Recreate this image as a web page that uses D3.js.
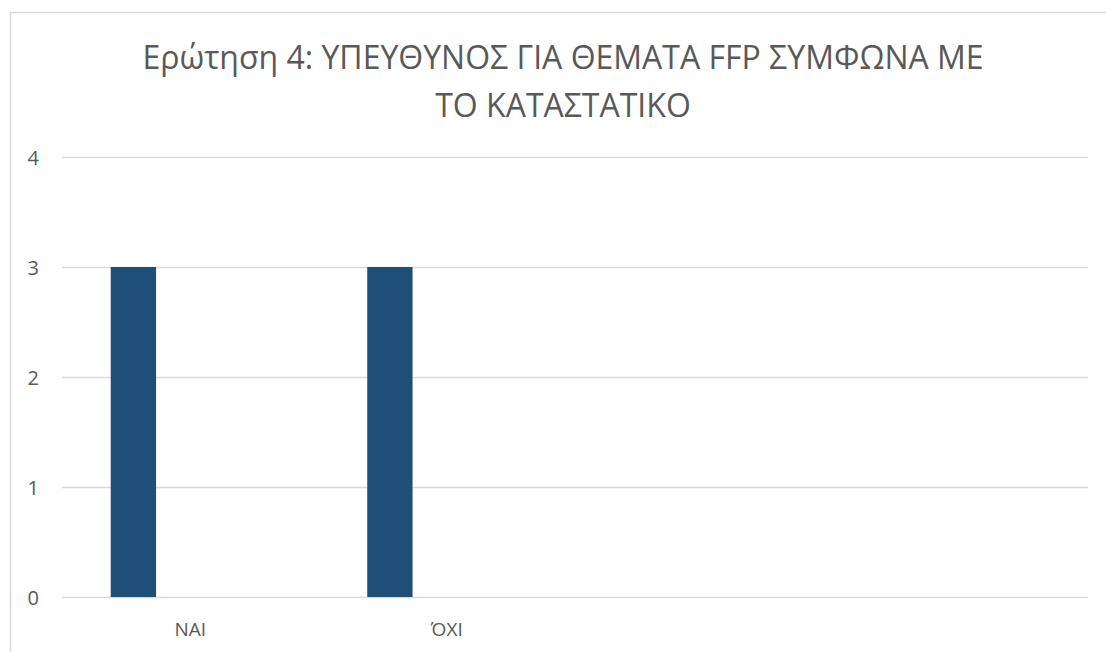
<!DOCTYPE html>
<html>
<head>
<meta charset="utf-8">
<script src="https://cdn.jsdelivr.net/npm/d3@7"></script>
<style>
  body { margin: 0; background: #fff; }
  svg { display: block; font-family: "Open Sans", "Noto Sans", sans-serif; }
</style>
</head>
<body>
<div id="chart"></div>
<script>
// chart data
const titleLines = ["Ερώτηση 4: ΥΠΕΥΘΥΝΟΣ ΓΙΑ ΘΕΜΑΤΑ FFP ΣΥΜΦΩΝΑ ΜΕ", "ΤΟ ΚΑΤΑΣΤΑΤΙΚΟ"];
const categories = ["NAI", "ΌΧΙ", " ", "  "];
const values = [3, 3, 0, 0];
const series = ["s1", "s2", "s3"];
const yTicks = [0, 1, 2, 3, 4];

const width = 1106, height = 652;
const margin = { top: 157, right: 18, bottom: 55, left: 62 };

const svg = d3.select("#chart").append("svg")
    .attr("width", width)
    .attr("height", height);

// outer frame (chart area border, partially cut off)
svg.append("rect")
    .attr("x", 10.5).attr("y", 12.5)
    .attr("width", width + 20).attr("height", height + 20)
    .attr("fill", "none")
    .attr("stroke", "#d9d9d9")
    .attr("stroke-width", 1.5);

// title
const title = svg.append("text")
    .attr("text-anchor", "middle")
    .attr("fill", "#595959")
    .style("font-size", "32px")
    .style("font-weight", 400);
titleLines.forEach((t, i) => {
    title.append("tspan")
        .attr("x", 563)
        .attr("y", 69 + i * 48)
        .text(t);
});

const x = d3.scaleBand()
    .domain(categories)
    .range([margin.left, width - margin.right]);

// position of a bar inside its category group
const x1 = d3.scaleBand()
    .domain(series)
    .range([x.bandwidth() * 0.19, x.bandwidth() * 0.72]);

const y = d3.scaleLinear()
    .domain([0, 4])
    .range([height - margin.bottom, margin.top]);

// gridlines
svg.append("g")
    .selectAll("line")
    .data(yTicks)
    .join("line")
    .attr("x1", margin.left)
    .attr("x2", width - margin.right)
    .attr("y1", d => Math.round(y(d)) + 0.5)
    .attr("y2", d => Math.round(y(d)) + 0.5)
    .attr("stroke", "#d9d9d9")
    .attr("stroke-width", 1.5);

// y axis labels
const yAxis = svg.append("g")
    .attr("transform", "translate(39,0)")
    .call(d3.axisLeft(y).tickValues(yTicks).tickFormat(d3.format("d")).tickSize(0).tickPadding(0));
yAxis.select(".domain").remove();
yAxis.selectAll("text")
    .attr("x", 0)
    .attr("dy", "0.35em")
    .attr("fill", "#595959")
    .style("font-size", "20px")
    .style("font-family", "\"Open Sans\", sans-serif");

// bars
svg.append("g")
    .selectAll("rect")
    .data(categories.map((c, i) => ({ cat: c, value: values[i] })))
    .join("rect")
    .attr("x", d => x(d.cat) + x1("s1"))
    .attr("width", x1.bandwidth())
    .attr("y", d => y(d.value))
    .attr("height", d => y(0) - y(d.value))
    .attr("fill", "#1f4e79");

// x axis labels
const xAxis = svg.append("g")
    .attr("transform", "translate(0," + (y(0) + 39) + ")")
    .call(d3.axisBottom(x).tickSize(0).tickPadding(0));
xAxis.select(".domain").remove();
xAxis.selectAll("text")
    .attr("y", 0)
    .attr("dy", 0)
    .attr("fill", "#595959")
    .style("font-size", "19px")
    .style("font-family", "\"Open Sans\", sans-serif");
</script>
</body>
</html>
